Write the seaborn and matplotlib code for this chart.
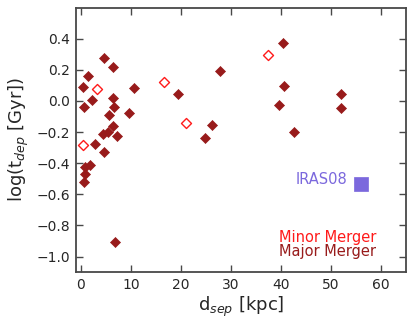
import pandas as pd
import matplotlib
matplotlib.use('Agg')
import matplotlib.pyplot as plt
import seaborn as sns

# separation (kpc) and log depletion time (Gyr)
major_dsep = [4.65, 6.5, 1.33, 0.4, 10.6, 2.26, 6.4, 0.53, 6.65, 5.6, 9.7, 6.4,
              4.4, 5.45, 7.2, 2.86, 4.65, 19.4, 24.8, 26.3, 27.8, 40.4, 40.7,
              39.6, 42.6, 52.1, 52.1, 0.8, 1.8, 0.8, 0.67, 6.8]
major_tdep = [0.274, 0.22, 0.163, 0.092, 0.085, 0.004, 0.017, -0.037, -0.037,
              -0.09, -0.077, -0.159, -0.214, -0.197, -0.223, -0.274, -0.326,
              0.047, -0.24, -0.156, 0.195, 0.372, 0.096, -0.024, -0.2, 0.047,
              -0.043, -0.428, -0.413, -0.471, -0.522, -0.907]
minor_dsep = [0.33, 3.2, 16.6, 20.96, 37.5]
minor_tdep = [-0.283, 0.075, 0.124, -0.143, 0.293]
iras_dsep = [56.1]
iras_tdep = [-0.531]

major_col = '#981b1b'
minor_col = '#ff1a1a'
iras_col = '#7b68dd'

major = pd.DataFrame({'dsep': major_dsep, 'tdep': major_tdep})
minor = pd.DataFrame({'dsep': minor_dsep, 'tdep': minor_tdep})
iras = pd.DataFrame({'dsep': iras_dsep, 'tdep': iras_tdep})

sns.set_style('ticks')
plt.rcParams['font.family'] = ['DejaVu Sans']

fig = plt.figure(figsize=(4.15, 3.27), dpi=100)
ax = fig.add_axes([0.183, 0.168, 0.795, 0.809])

sns.scatterplot(data=major, x='dsep', y='tdep', marker='D', s=26,
                color=major_col, edgecolor=major_col, linewidth=0.5, ax=ax)
sns.scatterplot(data=minor, x='dsep', y='tdep', marker='D', s=26,
                facecolor='white', edgecolor=minor_col, linewidth=1.0, ax=ax)
sns.scatterplot(data=iras, x='dsep', y='tdep', marker='s', s=110,
                color=iras_col, edgecolor=iras_col, linewidth=0.5, ax=ax)

ax.text(53.2, -0.505, 'IRAS08', color=iras_col, fontsize=10.5,
        ha='right', va='center')
ax.text(59, -0.875, 'Minor Merger', color=minor_col, fontsize=10.5,
        ha='right', va='center')
ax.text(59, -0.97, 'Major Merger', color=major_col, fontsize=10.5,
        ha='right', va='center')

ax.set_xlim(-1, 65)
ax.set_ylim(-1.1, 0.6)
ax.set_xticks([0, 10, 20, 30, 40, 50, 60])
ax.set_yticks([-1.0, -0.8, -0.6, -0.4, -0.2, 0.0, 0.2, 0.4])
ax.set_yticklabels(['\u22121.0', '\u22120.8', '\u22120.6', '\u22120.4',
                    '\u22120.2', '0.0', '0.2', '0.4'])
ax.set_xlabel('d$_{sep}$ [kpc]', fontsize=13, labelpad=2)
ax.set_ylabel('log(t$_{dep}$ [Gyr])', fontsize=13, labelpad=4)

for sp in ax.spines.values():
    sp.set_visible(True)
    sp.set_color('#484848')
    sp.set_linewidth(1.3)
ax.tick_params(direction='in', top=True, right=True, length=5, width=1,
               color='#484848', labelsize=10, pad=4)

plt.savefig('out.png', dpi=100)
